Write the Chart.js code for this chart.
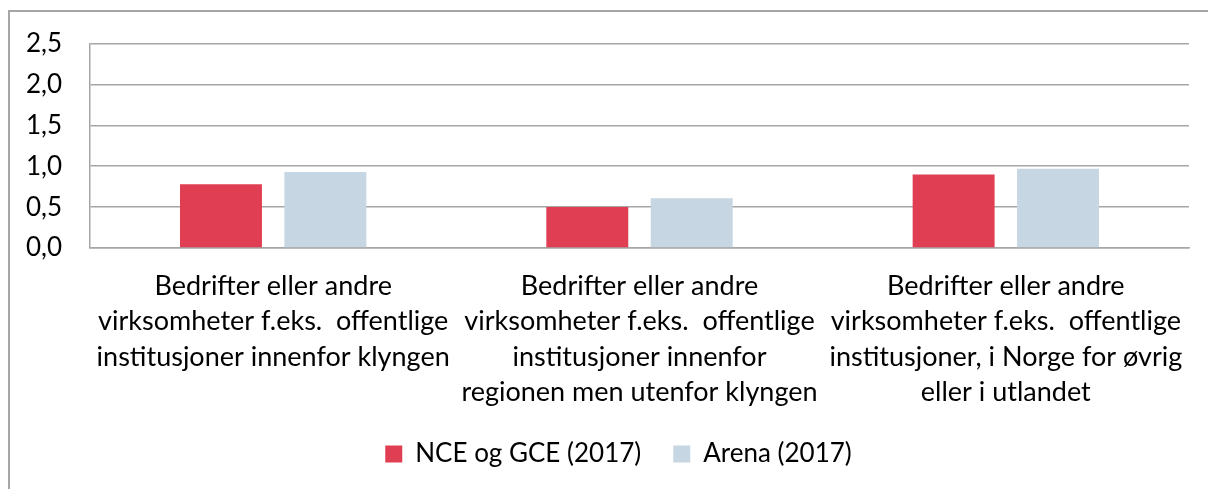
<!DOCTYPE html>
<html lang="no">
<head>
  <meta charset="UTF-8">
  <title>Samarbeidspartnere</title>
  <script src="https://cdn.jsdelivr.net/npm/chart.js"></script>
  <style>
    body { margin: 0; background: #fff; overflow: hidden; }
    .ramme { position: absolute; left: 8px; top: 10px; width: 1300px; height: 600px;
             border-left: 2px solid #a6a6a6; border-top: 2px solid #a6a6a6; }
    canvas { position: absolute; left: 0; top: 0; }
  </style>
</head>
<body>
  <div class="ramme"></div>
  <canvas id="graf" width="1208" height="489"></canvas>

  <script>
    const kategorier = [
      ["Bedrifter eller andre", "virksomheter f.eks.  offentlige", "institusjoner innenfor klyngen"],
      ["Bedrifter eller andre", "virksomheter f.eks.  offentlige", "institusjoner innenfor", "regionen men utenfor klyngen"],
      ["Bedrifter eller andre", "virksomheter f.eks.  offentlige", "institusjoner, i Norge for øvrig", "eller i utlandet"]
    ];
    const nceGce = [0.78, 0.50, 0.90];
    const arena = [0.93, 0.61, 0.97];
    const yMaks = 2.5;
    const ySteg = 0.5;

    const skrift = "Lato, 'Noto Sans', sans-serif";
    const grå = '#a6a6a6';

    // forklaringen står litt til høyre for midten
    const flyttForklaring = {
      id: 'flyttForklaring',
      afterLayout(chart) {
        chart.legend.left += 24;
        chart.legend.right += 24;
      }
    };

    new Chart(document.getElementById('graf'), {
      type: 'bar',
      data: {
        labels: kategorier,
        datasets: [
          { label: 'NCE og GCE (2017)', data: nceGce, backgroundColor: '#e03e52' },
          { label: 'Arena (2017)', data: arena, backgroundColor: '#c6d6e3' }
        ]
      },
      plugins: [flyttForklaring],
      options: {
        responsive: false,
        animation: false,
        categoryPercentage: 0.57,
        barPercentage: 0.785,
        layout: { padding: { top: 41, right: 19, left: 0, bottom: 12 } },
        plugins: {
          tooltip: { enabled: false },
          legend: {
            position: 'bottom',
            labels: {
              boxWidth: 17, boxHeight: 17, padding: 32,
              color: '#000',
              font: { family: skrift, size: 26 }
            }
          }
        },
        scales: {
          x: {
            grid: { display: false },
            border: { display: true, color: grå, width: 1.5 },
            ticks: {
              color: '#000', padding: 12, maxRotation: 0, autoSkip: false,
              font: { family: skrift, size: 27, lineHeight: 1.32 }
            },
            afterFit: (s) => { s.height = 161; }
          },
          y: {
            min: 0, max: yMaks,
            grid: { color: grå, lineWidth: 1.5, drawTicks: false },
            border: { display: true, color: grå, width: 1.5 },
            ticks: {
              stepSize: ySteg, color: '#000', padding: 28,
              font: { family: skrift, size: 26 },
              callback: (v) => v.toFixed(1).replace('.', ',')
            },
            afterFit: (s) => { s.width = 90; }
          }
        }
      }
    });
  </script>
</body>
</html>
